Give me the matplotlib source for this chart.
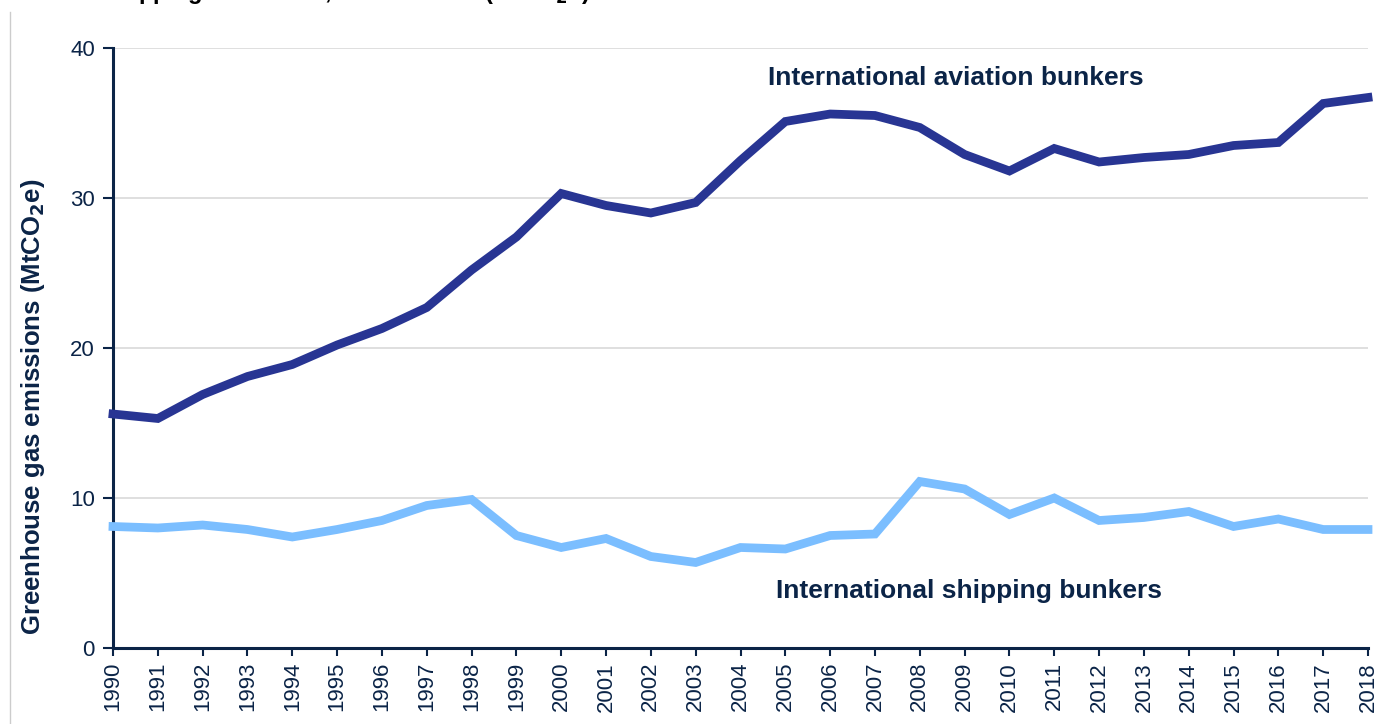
import matplotlib
matplotlib.use("Agg")
import matplotlib.pyplot as plt
from matplotlib.lines import Line2D

plt.rcParams['font.family'] = ['Liberation Sans', 'DejaVu Sans']

years = list(range(1990, 2019))
aviation = [15.6, 15.3, 16.9, 18.1, 18.9, 20.2, 21.3, 22.7, 25.2, 27.4,
            30.3, 29.5, 29.0, 29.7, 32.5, 35.1, 35.6, 35.5, 34.7, 32.9,
            31.8, 33.3, 32.4, 32.7, 32.9, 33.5, 33.7, 36.3, 36.7]
shipping = [8.1, 8.0, 8.2, 7.9, 7.4, 7.9, 8.5, 9.5, 9.9, 7.5,
            6.7, 7.3, 6.1, 5.7, 6.7, 6.6, 7.5, 7.6, 11.1, 10.6,
            8.9, 10.0, 8.5, 8.7, 9.1, 8.1, 8.6, 7.9, 7.9]
yticks = [0, 10, 20, 30, 40]
series_labels = ["International aviation bunkers", "International shipping bunkers"]
ylabel = "Greenhouse gas emissions (MtCO$_\\mathbf{2}$e)"
title = "shipping emissions, 1990 to 2018 (MtCO$_\\mathbf{2}$e)"

navy = "#0B2447"
av_col = "#283593"
sh_col = "#7BBEFF"

W, H = 1381, 724
fig = plt.figure(figsize=(W / 100, H / 100), dpi=100)
ax = fig.add_axes([113 / W, 1 - 648 / H, (1368 - 113) / W, 600 / H])

ax.plot(years, aviation, color=av_col, lw=6.3, solid_joinstyle='miter', zorder=3, clip_on=False)
ax.plot(years, shipping, color=sh_col, lw=6.3, solid_joinstyle='miter', zorder=3, clip_on=False)

ax.set_xlim(1990, 2018)
ax.set_ylim(0, 40)
ax.set_yticks(yticks)
ax.set_xticks(years)
ax.set_xticklabels([str(y) for y in years], rotation=90, fontsize=16, color=navy)
ax.tick_params(axis='y', labelsize=16, colors=navy, length=7, width=1.5, direction='out', pad=6)
ax.tick_params(axis='x', colors=navy, length=6, width=1.5, direction='out', pad=4)
for lab in ax.get_yticklabels():
    lab.set_color(navy)

ax.yaxis.grid(True, color="#d9d9d9", lw=1.2)
ax.set_axisbelow(True)
for s in ['top', 'right']:
    ax.spines[s].set_visible(False)
for s in ['left', 'bottom']:
    ax.spines[s].set_color(navy)
    ax.spines[s].set_linewidth(2.2)

fig.text(33 / W, 1 - 407 / H, ylabel, fontsize=18.5, fontweight='bold', color=navy,
         rotation=90, ha='center', va='center')

ax.text(2008.81, 38.0, series_labels[0], fontsize=19, fontweight='bold', color=navy,
        ha='center', va='center')
ax.text(2009.1, 3.8, series_labels[1], fontsize=19, fontweight='bold', color=navy,
        ha='center', va='center')

fig.text(590 / W, 1 + 1 / H, title, fontsize=17, fontweight='bold', color='black',
         ha='right', va='baseline')

fig.add_artist(Line2D([10 / W, 10 / W], [0, 1 - 12 / H], transform=fig.transFigure,
                      color="#cccccc", lw=1))

fig.savefig("out.png", dpi=100)
